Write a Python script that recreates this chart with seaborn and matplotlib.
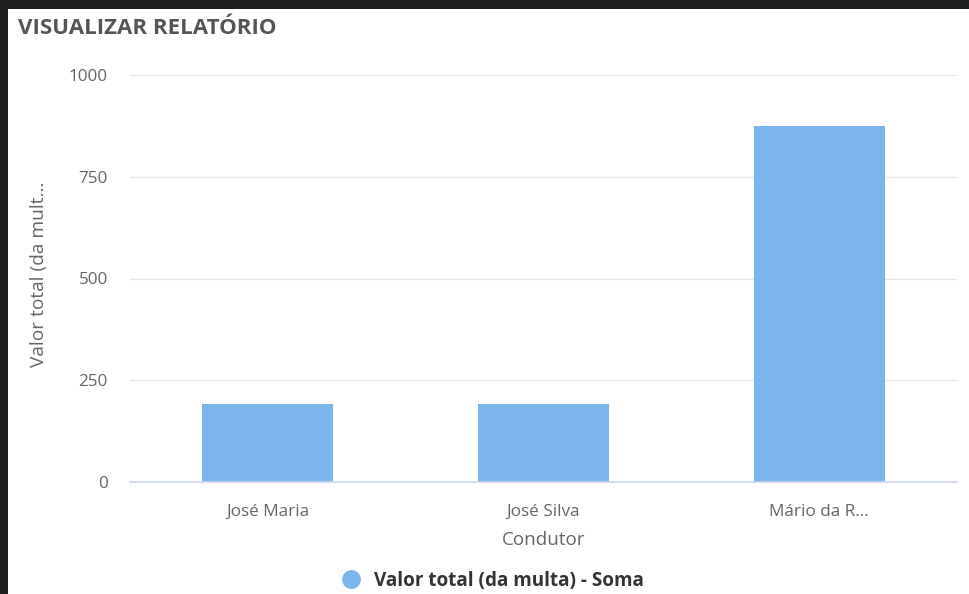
import matplotlib
matplotlib.use('Agg')
import matplotlib.pyplot as plt
import matplotlib.patches as mpatches
from matplotlib.lines import Line2D
import seaborn as sns
import pandas as pd

# data
condutores = ['José Maria', 'José Silva', 'Mário da R...']
valor_total = [191.5, 191.5, 875]
yticks = [0, 250, 500, 750, 1000]

df = pd.DataFrame({'Condutor': condutores, 'Valor': valor_total})

sns.set_style('white')
plt.rcParams['font.family'] = ['Open Sans', 'DejaVu Sans']

bar_color = '#7cb5ec'
text_color = '#666666'

fig = plt.figure(figsize=(9.69, 5.94), dpi=100)
fig.patch.set_facecolor('#1e1e1e')
# white panel inside the dark frame
fig.patches.append(mpatches.Rectangle((8 / 969, 0), 1, 1 - 9 / 594, transform=fig.transFigure,
                                      facecolor='white', edgecolor='none', zorder=-1))

ax = fig.add_axes([130 / 969, 1 - 482 / 594, 827 / 969, 407 / 594])
sns.barplot(data=df, x='Condutor', y='Valor', color=bar_color, width=0.475, saturation=1,
            linewidth=0, ax=ax)

ax.set_ylim(0, 1000)
ax.set_yticks(yticks)
ax.set_yticklabels([str(t) for t in yticks])
ax.grid(True, axis='y', color='#e6e6e6', linewidth=1)
ax.set_axisbelow(True)
for s in ['top', 'right', 'left']:
    ax.spines[s].set_visible(False)
ax.spines['bottom'].set_color('#ccd6eb')
ax.spines['bottom'].set_linewidth(1.2)
ax.tick_params(axis='both', length=0, colors=text_color, labelsize=12.3)
ax.tick_params(axis='y', pad=16)
ax.tick_params(axis='x', pad=16)
ax.set_xlabel('Condutor', color=text_color, fontsize=13.6, labelpad=8)
ax.set_ylabel('Valor total (da mult...', color=text_color, fontsize=13.8)
ax.yaxis.set_label_coords(-82 / 827, 0.51)
for lbl in ax.get_yticklabels():
    lbl.set_horizontalalignment('right')

fig.text(18 / 969, 1 - 28 / 594, 'VISUALIZAR RELATÓRIO', fontsize=16, fontweight='bold',
         color='#555555', va='center', ha='left')

handle = Line2D([], [], marker='o', linestyle='none', markersize=12.5,
                markerfacecolor=bar_color, markeredgecolor=bar_color)
leg = fig.legend([handle], ['Valor total (da multa) - Soma'], loc='center',
                 bbox_to_anchor=(488 / 969, 1 - 581 / 594), frameon=False,
                 prop={'weight': 'bold', 'size': 13.6}, handletextpad=0.2)
for t in leg.get_texts():
    t.set_color('#333333')

fig.savefig('out.png', dpi=100, facecolor=fig.get_facecolor())
